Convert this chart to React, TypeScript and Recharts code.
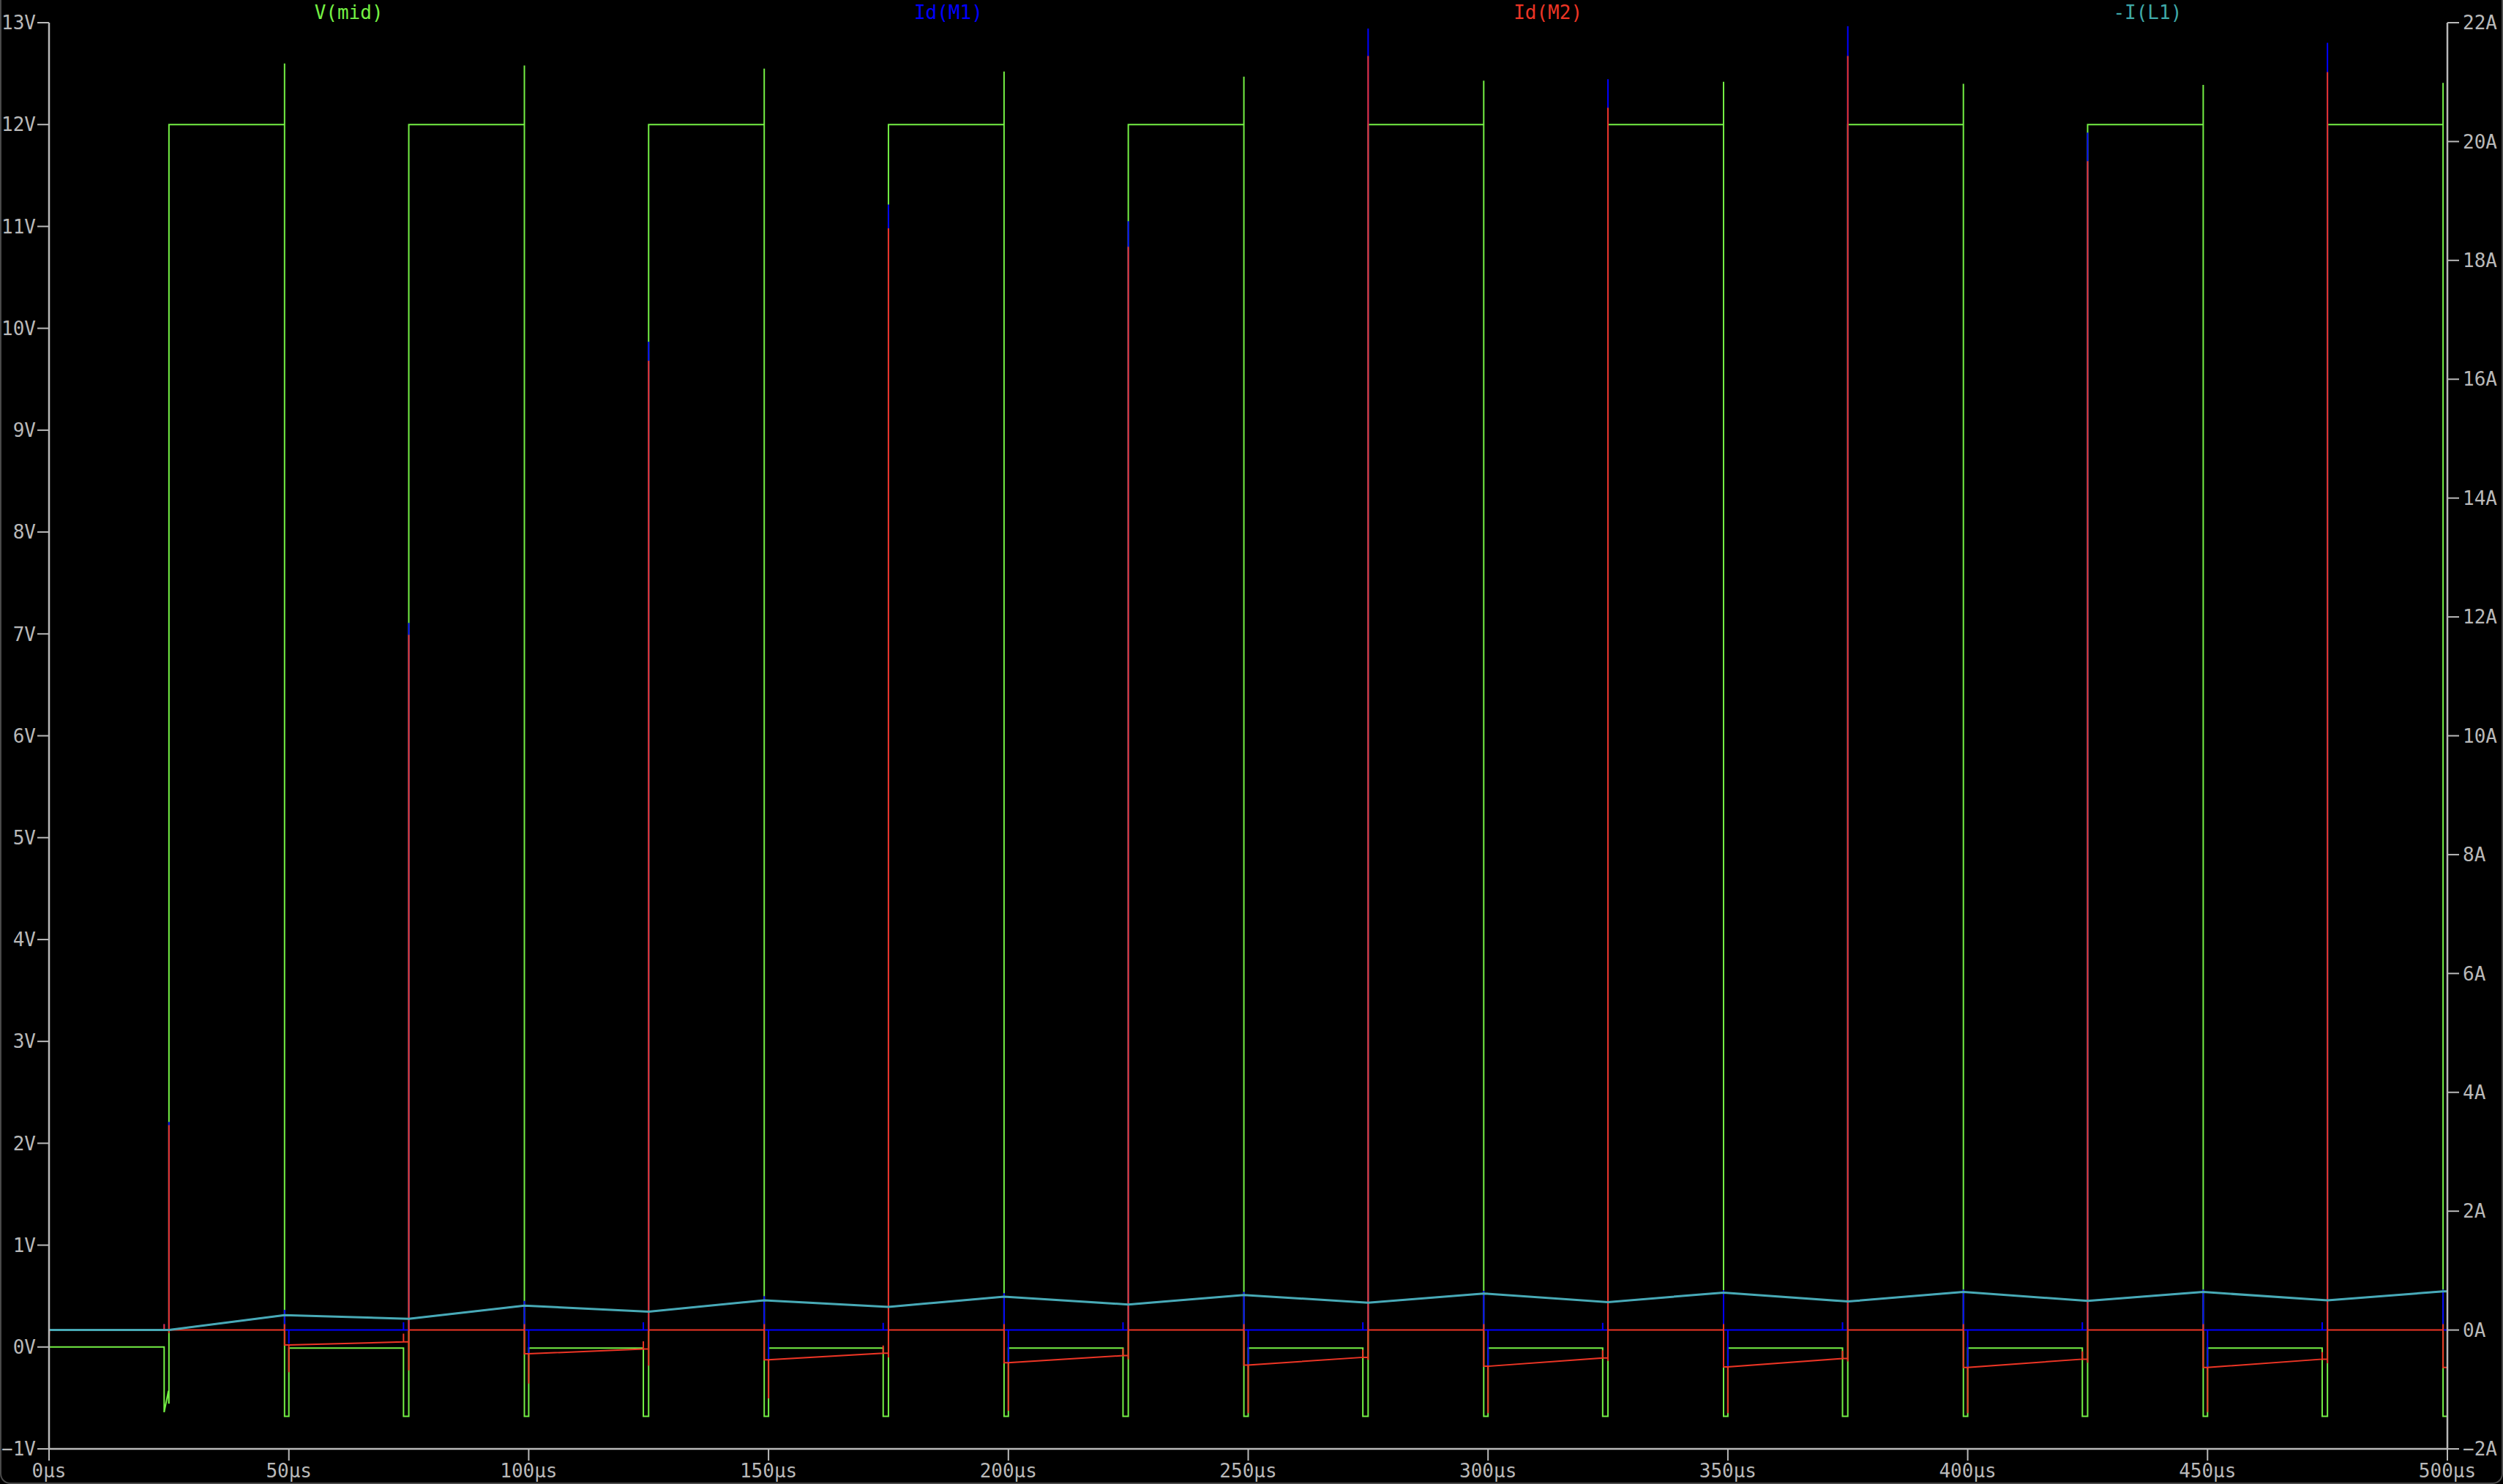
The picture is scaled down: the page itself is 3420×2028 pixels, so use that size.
import { LineChart, Line, XAxis, YAxis } from "recharts";

const FONT = "'DejaVu Sans Mono', monospace";
const AXIS = "#b9b9b9";

const TIME_TICKS = [0, 50, 100, 150, 200, 250, 300, 350, 400, 450, 500];
const VOLT_TICKS = [-1, 0, 1, 2, 3, 4, 5, 6, 7, 8, 9, 10, 11, 12, 13];
const AMP_TICKS = [-2, 0, 2, 4, 6, 8, 10, 12, 14, 16, 18, 20, 22];

// switching instants (µs)
const T_ON = [25, 75, 125, 175, 225, 275, 325, 375, 425, 475];
const T_OFF = [49.1, 99.1, 149.1, 199.1, 249.1, 299.1, 349.1, 399.1, 449.1, 499.1];
const T_LS_ON = [50, 100, 150, 200, 250, 300, 350, 400, 450];
const T_LS_OFF = [24, 73.9, 123.9, 173.9, 223.9, 273.9, 323.9, 373.9, 423.9, 473.9];

// V(mid), volts
const VMID_START = [2.6, 0];
const VMID_HIGH = 12.0;
const VMID_DIODE = -0.68;
const VMID_LOW = [0, -0.01, -0.01, -0.01, -0.01, -0.01, -0.01, -0.01, -0.01, -0.01];
const VMID_FIRST_DEAD: [number, number][] = [[24, -0.64], [24.9, -0.43], [24.95, -0.55], [25, -0.55]];
const VMID_OVERSHOOT = [12.6, 12.58, 12.55, 12.52, 12.47, 12.43, 12.42, 12.4, 12.39, 12.41];

// Id(M1), amps
const M1_SPIKE = [3.5, 11.9, 16.63, 18.94, 18.66, 21.9, 21.05, 21.94, 20.15, 21.66];
const M1_OFF_PEAK = [0.34, 0.49, 0.57, 0.62, 0.64, 0.66, 0.67, 0.68, 0.68, 0.68];
const M1_LS_DIP = [-0.23, -0.4, -0.5, -0.55, -0.59, -0.61, -0.62, -0.63, -0.63];
const M1_BUMP = [0.1, 0.13, 0.13, 0.12, 0.13, 0.13, 0.12, 0.13, 0.13, 0.13];

// Id(M2), amps
const M2_START: [number, number][] = [[0, 0.3], [0, -0.13], [0.05, 0]];
const M2_SPIKE = [3.45, 11.7, 16.31, 18.54, 18.23, 21.44, 20.57, 21.44, 19.67, 21.17];
const M2_UNDERSHOOT = [-0.05, -0.68, -0.6, -0.46, -0.49, -0.5, -0.52, -0.53, -0.55, -0.56];
const M2_OFF_BUMP = 0.1;
const M2_LOW_START = [-0.25, -0.4, -0.5, -0.55, -0.59, -0.61, -0.62, -0.63, -0.63, -0.63];
const M2_LOW_END = [-0.2, -0.32, -0.39, -0.43, -0.46, -0.47, -0.48, -0.49, -0.49];
const M2_DIODE_DIP = [-0.71, -0.9, -1.15, -1.36, -1.4, -1.4, -1.4, -1.4, -1.38];
const M2_BUMP = [0.1, -0.06, -0.19, -0.26, -0.31, -0.33, -0.34, -0.35, -0.36, -0.37];

// -I(L1), amps
const IL_TROUGH = [0, 0.19, 0.31, 0.39, 0.43, 0.46, 0.47, 0.48, 0.49, 0.5];
const IL_PEAK = [0.25, 0.41, 0.5, 0.56, 0.59, 0.615, 0.63, 0.64, 0.64, 0.65];

const SERIES_NAMES = ["V(mid)", "Id(M1)", "Id(M2)", "-I(L1)"];
const SERIES_COLORS = ["#74f044", "#0000ff", "#ec3525", "#48aab6"];
const LABEL_COLORS = ["#74f044", "#0000ff", "#ec3525", "#3fa8a8"];

type P = { t: number; y: number };

function buildVmid(): P[] {
  const p: P[] = [{ t: 0, y: VMID_START[0] }, { t: 0, y: VMID_START[1] }];
  T_ON.forEach((on, k) => {
    p.push({ t: T_LS_OFF[k], y: VMID_LOW[k] });
    if (k === 0) {
      VMID_FIRST_DEAD.forEach(([t, y]) => p.push({ t, y }));
    } else {
      p.push({ t: T_LS_OFF[k], y: VMID_DIODE }, { t: on, y: VMID_DIODE });
    }
    p.push({ t: on, y: VMID_HIGH }, { t: T_OFF[k], y: VMID_HIGH });
    p.push({ t: T_OFF[k], y: VMID_OVERSHOOT[k] }, { t: T_OFF[k], y: VMID_DIODE });
    if (k < T_LS_ON.length) {
      p.push({ t: T_LS_ON[k], y: VMID_DIODE }, { t: T_LS_ON[k], y: VMID_LOW[k + 1] });
    } else {
      p.push({ t: 500, y: VMID_DIODE });
    }
  });
  return p;
}

function buildM1(): P[] {
  const p: P[] = [{ t: 0, y: 0 }];
  T_ON.forEach((on, k) => {
    p.push({ t: T_LS_OFF[k], y: 0 }, { t: T_LS_OFF[k], y: M1_BUMP[k] }, { t: T_LS_OFF[k], y: 0 });
    p.push({ t: on, y: 0 }, { t: on, y: M1_SPIKE[k] }, { t: on, y: IL_TROUGH[k] });
    p.push({ t: T_OFF[k], y: IL_PEAK[k] }, { t: T_OFF[k], y: M1_OFF_PEAK[k] }, { t: T_OFF[k], y: 0 });
    if (k < T_LS_ON.length) {
      p.push({ t: T_LS_ON[k], y: 0 }, { t: T_LS_ON[k], y: M1_LS_DIP[k] }, { t: T_LS_ON[k], y: 0 });
    } else {
      p.push({ t: 500, y: 0 });
    }
  });
  return p;
}

function buildM2(): P[] {
  const p: P[] = M2_START.map(([t, y]) => ({ t, y }));
  T_ON.forEach((on, k) => {
    const before = k === 0 ? 0 : M2_LOW_END[k - 1];
    p.push({ t: T_LS_OFF[k], y: before }, { t: T_LS_OFF[k], y: M2_BUMP[k] }, { t: T_LS_OFF[k], y: before });
    p.push({ t: on, y: before }, { t: on, y: M2_SPIKE[k] }, { t: on, y: M2_UNDERSHOOT[k] }, { t: on, y: 0 });
    p.push({ t: T_OFF[k], y: 0 }, { t: T_OFF[k], y: M2_OFF_BUMP }, { t: T_OFF[k], y: M2_LOW_START[k] });
    if (k < T_LS_ON.length) {
      p.push(
        { t: T_LS_ON[k], y: M2_LOW_START[k] },
        { t: T_LS_ON[k], y: M2_DIODE_DIP[k] },
        { t: T_LS_ON[k], y: M2_LOW_START[k] }
      );
    } else {
      p.push({ t: 500, y: M2_LOW_START[k] });
    }
  });
  return p;
}

function buildIL(): P[] {
  const p: P[] = [{ t: 0, y: 0 }];
  T_ON.forEach((on, k) => {
    p.push({ t: on, y: IL_TROUGH[k] }, { t: T_OFF[k], y: IL_PEAK[k] });
  });
  p.push({ t: 500, y: IL_PEAK[IL_PEAK.length - 1] });
  return p;
}

const vmid = buildVmid();
const idM1 = buildM1();
const idM2 = buildM2();
const iL1 = buildIL();

const W = 3420;
const H = 2028;
const PLOT_LEFT = 67;
const PLOT_RIGHT = 3344;

const fmt = (unit: string) => (v: number) => `${v < 0 ? "\u2212" : ""}${Math.abs(v)}${unit}`;
const tickStyle = { fill: AXIS, fontSize: 26, fontFamily: FONT };

export default function App() {
  return (
    <div style={{ position: "relative", width: W, height: H, background: "#000" }}>
      <style>{"body{margin:0;background:#000;}"}</style>
      <LineChart width={W} height={H} margin={{ top: 31, right: 0, bottom: 0, left: 0 }}>
        <XAxis
          xAxisId="b"
          dataKey="t"
          type="number"
          domain={[0, 500]}
          ticks={TIME_TICKS}
          interval={0}
          tickFormatter={fmt("\u00b5s")}
          height={48}
          tickSize={16}
          tickMargin={5}
          axisLine={{ stroke: AXIS, strokeWidth: 2.5 }}
          tickLine={{ stroke: AXIS, strokeWidth: 2 }}
          tick={tickStyle}
        />
        <XAxis
          xAxisId="top"
          orientation="top"
          dataKey="t"
          type="number"
          domain={[0, 500]}
          height={0}
          tick={false}
          tickLine={false}
          axisLine={{ stroke: AXIS, strokeWidth: 2.5 }}
        />
        <YAxis
          yAxisId="v"
          type="number"
          domain={[-1, 13]}
          ticks={VOLT_TICKS}
          interval={0}
          tickFormatter={fmt("V")}
          width={PLOT_LEFT}
          tickSize={16}
          tickMargin={2}
          axisLine={{ stroke: AXIS, strokeWidth: 2.5 }}
          tickLine={{ stroke: AXIS, strokeWidth: 2 }}
          tick={tickStyle}
        />
        <YAxis
          yAxisId="a"
          orientation="right"
          type="number"
          domain={[-2, 22]}
          ticks={AMP_TICKS}
          interval={0}
          tickFormatter={fmt("A")}
          width={W - PLOT_RIGHT}
          tickSize={16}
          tickMargin={5}
          axisLine={{ stroke: AXIS, strokeWidth: 2.5 }}
          tickLine={{ stroke: AXIS, strokeWidth: 2 }}
          tick={tickStyle}
        />
        <Line xAxisId="b" yAxisId="v" data={vmid} dataKey="y" type="linear" stroke={SERIES_COLORS[0]} strokeWidth={2} dot={false} activeDot={false} isAnimationActive={false} />
        <Line xAxisId="b" yAxisId="a" data={idM1} dataKey="y" type="linear" stroke={SERIES_COLORS[1]} strokeWidth={2} dot={false} activeDot={false} isAnimationActive={false} />
        <Line xAxisId="b" yAxisId="a" data={idM2} dataKey="y" type="linear" stroke={SERIES_COLORS[2]} strokeWidth={2} dot={false} activeDot={false} isAnimationActive={false} />
        <Line xAxisId="b" yAxisId="a" data={iL1} dataKey="y" type="linear" stroke={SERIES_COLORS[3]} strokeWidth={3} dot={false} activeDot={false} isAnimationActive={false} />
      </LineChart>
      <svg width={W} height={40} style={{ position: "absolute", left: 0, top: 0, pointerEvents: "none" }}>
        {SERIES_NAMES.map((name, i) => (
          <text
            key={name}
            x={PLOT_LEFT + ((i + 0.5) * (PLOT_RIGHT - PLOT_LEFT)) / 4}
            y={26}
            textAnchor="middle"
            fill={LABEL_COLORS[i]}
            fontSize={26}
            fontFamily={FONT}
          >
            {name}
          </text>
        ))}
      </svg>
      <div
        style={{
          position: "absolute",
          left: 0,
          top: 0,
          width: W,
          height: H,
          boxSizing: "border-box",
          borderLeft: "2px solid #4a4a4a",
          borderRight: "2px solid #4a4a4a",
          borderBottom: "2px solid #4a4a4a",
          borderRadius: "0 0 14px 14px",
          pointerEvents: "none",
        }}
      />
    </div>
  );
}
